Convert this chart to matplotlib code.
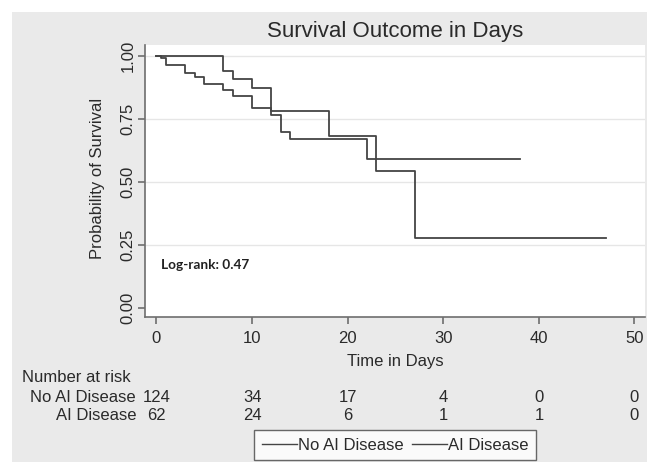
import numpy as np
import matplotlib
matplotlib.use("Agg")
import matplotlib.pyplot as plt
import matplotlib.transforms as mtransforms
from matplotlib.patches import Rectangle

plt.rcParams['font.family'] = ['Liberation Sans', 'DejaVu Sans']

# Kaplan-Meier step curves
no_ai_days = [0, 0.5, 1, 3, 4, 5, 7, 8, 10, 12, 13, 14, 22, 38]
no_ai_surv = [1.0, 0.992, 0.964, 0.931, 0.918, 0.889, 0.865, 0.841, 0.792, 0.766, 0.70, 0.669, 0.59, 0.59]
ai_days = [0, 7, 8, 10, 12, 18, 23, 27, 47]
ai_surv = [1.0, 0.942, 0.91, 0.872, 0.783, 0.683, 0.545, 0.277, 0.277]

# number at risk table
risk_times = [0, 10, 20, 30, 40, 50]
no_ai_risk = [124, 34, 17, 4, 0, 0]
ai_risk = [62, 24, 6, 1, 1, 0]
group_names = ["No AI Disease", "AI Disease"]

x_ticks = [0, 10, 20, 30, 40, 50]
y_ticks = [0.0, 0.25, 0.5, 0.75, 1.0]
y_ticklabels = ["0.00", "0.25", "0.50", "0.75", "1.00"]

W, H = 647, 463
fig = plt.figure(figsize=(W / 100, H / 100), dpi=100)
fig.patch.set_facecolor('white')
# grey panel behind everything (white margin on top and left)
fig.patches.append(Rectangle((12 / W, 1 / H), 1 - 12 / W, (450) / H,
                             transform=fig.transFigure, facecolor='#eaeaea',
                             edgecolor='none', zorder=-10))

ax = fig.add_axes([145 / W, 1 - 317 / H, 500 / W, 272 / H])
ax.set_facecolor('white')

line_col = '#444444'
ax.step(no_ai_days, no_ai_surv, where='post', color=line_col, lw=1.3, label=group_names[0])
ax.step(ai_days, ai_surv, where='post', color=line_col, lw=1.3, label=group_names[1])

ax.set_xlim(-1.2, 51.1)
ax.set_ylim(-0.036, 1.044)
ax.set_xticks(x_ticks)
ax.set_yticks(y_ticks)
ax.set_yticklabels(y_ticklabels, rotation=90, va='center')
for y in [0.25, 0.5, 0.75, 1.0]:
    ax.axhline(y, color='#e6e6e6', lw=1, zorder=0)

for s in ['top', 'right']:
    ax.spines[s].set_visible(False)
for s in ['left', 'bottom']:
    ax.spines[s].set_color('#6e6e6e')
    ax.spines[s].set_linewidth(1.2)
ax.tick_params(axis='both', colors='#6e6e6e', length=5, width=1.2, labelsize=12,
               labelcolor='#2a2a2a')
ax.tick_params(axis='y', pad=2)
ax.tick_params(axis='x', pad=5)

ax.set_ylabel("Probability of Survival", fontsize=12, color='#2a2a2a')
ax.yaxis.set_label_coords(-0.08, 0.51)
ax.set_xlabel("Time in Days", fontsize=12, color='#2a2a2a')
ax.xaxis.set_label_coords(0.5, -0.135)

fig.text(395 / W, 1 - 31 / H, "Survival Outcome in Days", fontsize=16,
         ha='center', va='center', color='#2a2a2a')

ax.text(0.45, 0.17, "Log-rank: 0.47", fontsize=9.8, fontweight='bold',
        family=['Lato', 'DejaVu Sans'], color='#222222', va='center', ha='left')

# number at risk table
tr = mtransforms.blended_transform_factory(ax.transData, fig.transFigure)
fig.text(22 / W, 1 - 377 / H, "Number at risk", fontsize=12, ha='left', va='center',
         color='#2a2a2a')
rows = [no_ai_risk, ai_risk]
row_y = [1 - 397 / H, 1 - 416 / H]
for name, vals, yy in zip(group_names, rows, row_y):
    fig.text(136 / W, yy, name, fontsize=12, ha='right', va='center', color='#2a2a2a')
    for t, v in zip(risk_times, vals):
        ax.text(t, yy, str(v), transform=tr, fontsize=12, ha='center', va='center',
                color='#2a2a2a', clip_on=False)

leg = ax.legend(loc='center', bbox_to_anchor=(395 / W, 1 - 445 / H),
                bbox_transform=fig.transFigure, ncol=2, frameon=True, fancybox=False,
                fontsize=12, handlelength=2.1, handletextpad=0.05, columnspacing=0.5,
                borderpad=0.45, borderaxespad=0)
leg.get_frame().set_edgecolor('#444444')
leg.get_frame().set_linewidth(1.0)
for t in leg.get_texts():
    t.set_color('#2a2a2a')
for l in leg.get_lines():
    l.set_linewidth(1.0)

fig.savefig("out.png", dpi=100, facecolor=fig.get_facecolor())
